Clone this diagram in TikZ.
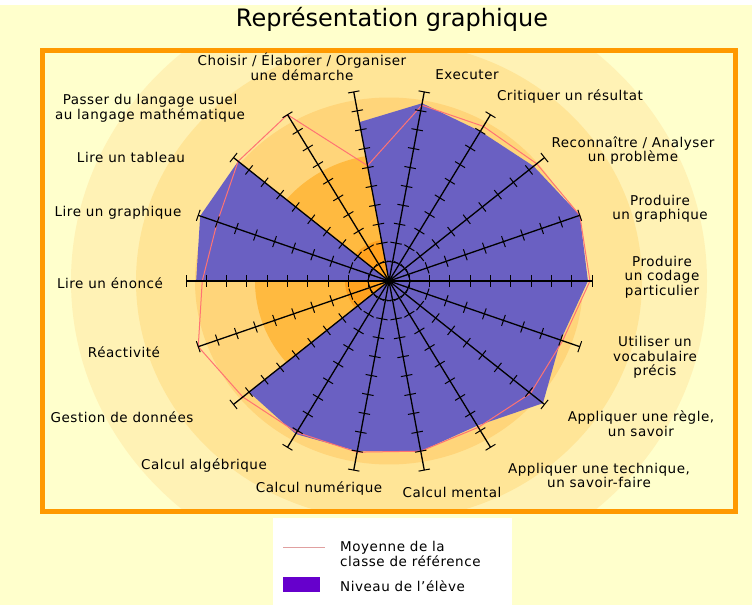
\documentclass[tikz,border=0pt]{standalone}
\usepackage{fontspec}
\setmainfont{DejaVu Sans}[LetterSpace=4]
\newfontfamily\titlefont{DejaVu Sans}
\usetikzlibrary{calc}
\definecolor{bgyellow}{HTML}{FFFFCC}
\definecolor{ringA}{HTML}{FFF2B5}
\definecolor{ringB}{HTML}{FFE597}
\definecolor{ringC}{HTML}{FFD57A}
\definecolor{ringD}{HTML}{FFBA40}
\definecolor{ringE}{HTML}{FFA21F}
\definecolor{framecol}{HTML}{FF9900}
\definecolor{eleve}{HTML}{6A60C2}
\definecolor{moyenne}{HTML}{FF7373}
\definecolor{legendeleve}{HTML}{6600CC}
\definecolor{legendmoy}{HTML}{E0A0A0}
\begin{document}
\begin{tikzpicture}[x=1pt,y=-1pt,
  lbl/.style={font=\fontsize{13.5}{14.5}\selectfont, align=center, inner sep=0pt, text=black},
  axisline/.style={line width=1.3pt, black},
  tickmark/.style={line width=1pt, black},
  moyline/.style={moyenne, line width=1pt, line join=round}]
\useasboundingbox (0,0) rectangle (752,605);
\fill[bgyellow] (0,0) rectangle (752,605);
\fill[white] (0,0) rectangle (752,5);
\coordinate (C) at (389,281);
% concentric rings
\begin{scope}
  \clip (42,50) rectangle (735,511);
  \foreach \r/\c in {318/ringA,253/ringB,194/ringC,134/ringD,44/ringE}
    \fill[\c] (C) ellipse [x radius=\r, y radius={\r*0.9458}];
\end{scope}
% data points: angle / eleve / moyenne
\foreach \a/\s/\m in {0/0.98/0.99, 20/1.0/1.0, 40/0.93/0.95, 60/0.9/0.93, 80/0.94/0.93,
  100/0.84/0.61, 120/0/1.0, 140/0.97/0.97, 160/0.99/0.9, 180/0.95/0.92, 200/0/1.0,
  220/0.9/0.94, 240/0.92/0.91, 260/0.9/0.905, 280/0.9/0.9, 300/0.87/0.88,
  320/0.99/0.91, 340/0.9/0.91} {
  \coordinate (s\a) at ($(C)+({\s*203*cos(\a)},{-\s*192*sin(\a)})$);
  \coordinate (m\a) at ($(C)+({\m*203*cos(\a)},{-\m*192*sin(\a)})$);
}
\fill[eleve] (s0) -- (s20) -- (s40) -- (s60) -- (s80) -- (s100) -- (s120) -- (s140)
  -- (s160) -- (s180) -- (s200) -- (s220) -- (s240) -- (s260) -- (s280) -- (s300)
  -- (s320) -- (s340) -- cycle;
\draw[moyline] (m0) -- (m20) -- (m40) -- (m60) -- (m80) -- (m100) -- (m120) -- (m140)
  -- (m160) -- (m180) -- (m200) -- (m220) -- (m240) -- (m260) -- (m280) -- (m300)
  -- (m320) -- (m340) -- cycle;
% axes with ticks
\foreach \a in {0,20,...,340} {
  \pgfmathsetmacro\adx{203*cos(\a)}
  \pgfmathsetmacro\ady{-192*sin(\a)}
  \pgfmathsetmacro\axlen{veclen(\adx,\ady)}
  \pgfmathsetmacro\anx{-(\ady)/\axlen*5.8}
  \pgfmathsetmacro\any{(\adx)/\axlen*5.8}
  \coordinate (e\a) at ($(C)+(\adx,\ady)$);
  \draw[axisline] (C) -- (e\a);
  \foreach \k in {1,...,10} {
    \draw[tickmark] ($(C)+({\k/10*(\adx)+(\anx)},{\k/10*(\ady)+(\any)})$) -- ++({-2*(\anx)},{-2*(\any)});
  }
}
% frame
\draw[framecol, line width=5pt] (42,50) rectangle (735,511);
% title
\node[font=\titlefont\fontsize{24}{26}\selectfont, anchor=base, inner sep=0pt] (title) at (392,27) {Représentation graphique};
% labels
\node[lbl] (l100) at (302,67) {Choisir / Élaborer / Organiser\\une démarche};
\node[lbl] (l80) at (467,75) {Executer};
\node[lbl] (l60) at (570,97) {Critiquer un résultat};
\node[lbl] (l40) at (633,150.5) {Reconnaître / Analyser\\un problème};
\node[lbl] (l20) at (660,209) {Produire\\un graphique};
\node[lbl] (l0) at (662,277) {Produire\\un codage\\particulier};
\node[lbl] (l340) at (655,357.5) {Utiliser un\\vocabulaire\\précis};
\node[lbl] (l320) at (641,423.5) {Appliquer une règle,\\un savoir};
\node[lbl] (l300) at (599,475.5) {Appliquer une technique,\\un savoir-faire};
\node[lbl] (l280) at (452,492) {Calcul mental};
\node[lbl] (l260) at (319,488) {Calcul numérique};
\node[lbl] (l240) at (204,465) {Calcul algébrique};
\node[lbl] (l220) at (122,417) {Gestion de données};
\node[lbl] (l200) at (124,352) {Réactivité};
\node[lbl] (l180) at (110,283) {Lire un énoncé};
\node[lbl] (l160) at (118,213) {Lire un graphique};
\node[lbl] (l140) at (131,157) {Lire un tableau};
\node[lbl] (l120) at (150,108.5) {Passer du langage usuel\\au langage mathématique};
% legend
\fill[white] (273,518) rectangle (512,605);
\coordinate (lgA) at (283,547);
\coordinate (lgB) at (325,547);
\draw[legendmoy, line width=1pt] (lgA) -- (lgB);
\fill[legendeleve] (283,577) rectangle (320,592);
\node[lbl, anchor=west, align=left] (legm) at (340,554) {Moyenne de la\\classe de référence};
\node[lbl, anchor=west] (lege) at (340,586) {Niveau de l{\char"0027}élève};
\end{tikzpicture}
\end{document}
